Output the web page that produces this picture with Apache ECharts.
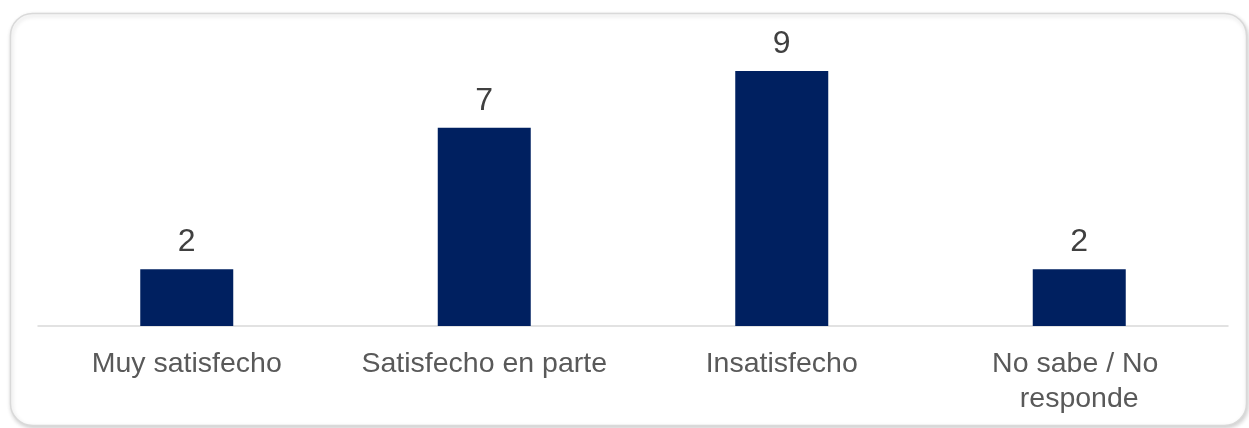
<!DOCTYPE html>
<html>
<head>
<meta charset="utf-8">
<script src="https://cdn.jsdelivr.net/npm/echarts@6/dist/echarts.min.js"></script>
<style>
html,body{margin:0;padding:0;background:#fff;}
#chart{width:1249px;height:428px;}
</style>
</head>
<body>
<div id="chart"></div>
<script>
const categories = ["Muy satisfecho", "Satisfecho en parte", "Insatisfecho", "No sabe / No responde"];
const values = [2, 7, 9, 2];

const chart = echarts.init(document.getElementById('chart'));
chart.setOption({
  animation: false,
  backgroundColor: '#ffffff',
  graphic: [{
    type: 'rect',
    z: -10,
    shape: { x: 10.5, y: 13.5, width: 1236, height: 412, r: 22 },
    style: {
      fill: '#ffffff',
      stroke: '#d9d9d9',
      lineWidth: 1.5,
      shadowColor: 'rgba(0,0,0,0.18)',
      shadowBlur: 4,
      shadowOffsetX: 1,
      shadowOffsetY: 2
    }
  }],
  grid: { left: 38, right: 21, top: 42.7, bottom: 102, containLabel: false },
  xAxis: {
    type: 'category',
    data: categories,
    axisLine: { show: true, lineStyle: { color: '#d9d9d9', width: 1.5 } },
    axisTick: { show: false },
    axisLabel: {
      color: '#595959',
      fontFamily: 'Liberation Sans, Arial, sans-serif',
      fontSize: 28.5,
      lineHeight: 35,
      margin: 21,
      width: 270,
      overflow: 'break',
      interval: 0
    }
  },
  yAxis: {
    type: 'value',
    min: 0,
    max: 10,
    show: false,
    splitLine: { show: false }
  },
  series: [{
    type: 'bar',
    data: values,
    barWidth: 93,
    itemStyle: { color: '#002060' },
    label: {
      show: true,
      position: 'top',
      distance: 11,
      color: '#404040',
      fontFamily: 'Liberation Sans, Arial, sans-serif',
      fontSize: 32
    }
  }]
});
</script>
</body>
</html>
